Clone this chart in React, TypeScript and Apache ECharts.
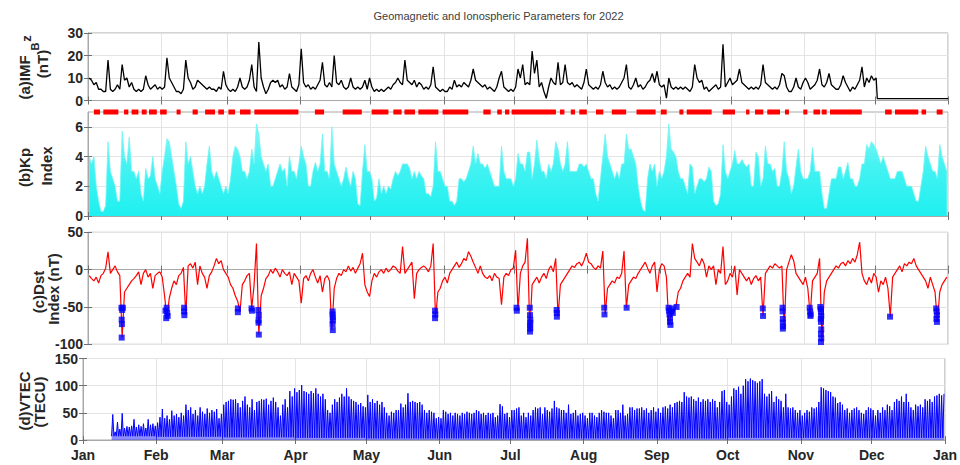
import React, { useEffect, useRef } from "react";
import * as echarts from "echarts";

// ---------- axis ticks ----------
const monthStarts = [0, 31, 59, 90, 120, 151, 181, 212, 243, 273, 304, 334, 365];
const monthLabels = ["Jan", "Feb", "Mar", "Apr", "May", "Jun", "Jul", "Aug", "Sep", "Oct", "Nov", "Dec", "Jan"];
const kpTicks = [0, 2, 4, 6];

// ---------- (a) IMF, daily values from day 0 (Jan 1) to day 334 ----------
const imfDaily = [
  10, 9, 7, 8, 5, 5, 4, 4, 18, 5,
  4, 5, 7, 5, 16, 9, 10, 6, 8, 5,
  4, 5, 4, 5, 11, 7, 5, 6, 7, 5,
  6, 5, 6, 19, 10, 8, 6, 4, 4, 3,
  5, 18, 10, 8, 5, 6, 9, 8, 7, 6,
  5, 6, 5, 5, 4, 6, 5, 13, 7, 5,
  4, 5, 4, 6, 10, 6, 5, 6, 9, 16,
  6, 4, 26, 10, 6, 3, 5, 8, 9, 8,
  9, 6, 7, 5, 6, 12, 6, 5, 4, 7,
  23, 8, 6, 7, 5, 6, 5, 7, 9, 17,
  7, 6, 8, 6, 20, 8, 7, 9, 6, 5,
  6, 10, 6, 5, 6, 5, 6, 9, 5, 10,
  6, 4, 5, 4, 5, 4, 5, 6, 5, 7,
  8, 10, 8, 7, 18, 9, 8, 7, 9, 6,
  8, 7, 5, 6, 5, 7, 15, 6, 5, 4,
  5, 4, 4, 6, 5, 9, 6, 7, 6, 8,
  7, 6, 9, 14, 9, 8, 7, 6, 7, 5,
  6, 5, 4, 6, 10, 13, 6, 5, 4, 5,
  4, 6, 14, 10, 16, 7, 8, 7, 22, 12,
  18, 6, 8, 4, 1, 6, 10, 8, 7, 17,
  7, 8, 16, 8, 7, 8, 6, 7, 6, 5,
  8, 14, 7, 6, 5, 6, 5, 7, 13, 8,
  6, 7, 5, 6, 5, 6, 8, 10, 16, 6,
  5, 7, 10, 6, 7, 5, 6, 8, 9, 12,
  8, 13, 7, 6, 7, 1, 10, 6, 5, 6,
  5, 6, 5, 6, 5, 4, 6, 16, 10, 8,
  9, 5, 6, 4, 5, 6, 7, 5, 6, 25,
  6, 8, 10, 7, 8, 9, 14, 8, 7, 6,
  5, 6, 5, 6, 5, 7, 16, 8, 7, 6,
  5, 6, 5, 7, 12, 11, 6, 4, 4, 6,
  10, 6, 5, 8, 10, 8, 5, 6, 7, 9,
  14, 7, 6, 8, 12, 7, 6, 5, 5, 7,
  11, 8, 6, 4, 6, 5, 7, 9, 15, 6,
  10, 8, 11, 9, 10,
];
const imfFlat = [[335, 0.8], [365, 0.8]];

// ---------- (b) Kp, daily maximum, day 0..364 ----------
const kpDaily = [
  4, 3.5, 4, 2, 1, 0.3, 0.3, 0.7, 5, 3,
  2.5, 2, 1, 1, 5.7, 4, 3.5, 5.3, 3, 3,
  2.5, 3, 1.5, 1, 3.2, 2.5, 2.7, 4, 2.5, 2,
  1.5, 3, 4, 5.2, 5, 4, 3, 2, 0.8, 0.5,
  1, 5, 3.5, 4, 3, 2, 1.5, 2, 1.5, 2,
  3.5, 4.7, 3, 2.5, 3, 2.5, 2, 1.5, 2, 1.5,
  2.5, 4, 4.7, 4.5, 4, 3, 3, 2.5, 3, 4.5,
  3.5, 6.2, 5.5, 4, 3.5, 3, 3.5, 2, 2, 2.5,
  3, 3.5, 3, 3.2, 2, 4, 3, 3, 2.5, 3.5,
  4.7, 4, 3.5, 2, 2, 3, 3.6, 3, 3.5, 5.5,
  3, 3, 2.5, 6, 3.5, 3, 2.5, 2, 2.5, 3.3,
  2.5, 2, 3, 2.5, 0.8, 0.7, 3, 4.8, 3, 3,
  2.5, 1, 1.2, 2.5, 1.5, 2, 1.5, 2, 1.8, 2.5,
  3, 2.7, 3, 3.5, 3.5, 3.5, 3.2, 2.5, 3, 2.5,
  3, 2.7, 2.5, 1.5, 1.5, 1.3, 2, 5, 3, 3,
  2.5, 2, 2, 1, 1, 0.7, 1, 2.5, 2.5, 2.3,
  2.5, 3, 3.5, 4.7, 3.5, 4.2, 3.5, 3.5, 3.2, 3.5,
  3, 2.5, 2, 2, 2, 4.7, 3, 2.5, 2.5, 2.5,
  2, 2.5, 4.2, 3.5, 3.5, 3, 4.3, 4.3, 2.5, 3.5,
  5.1, 3.8, 3, 3, 2.5, 3.5, 3, 3.5, 5, 4.5,
  3.5, 3, 3.5, 5, 3, 3, 3, 3, 3.5, 3.5,
  3.3, 3.5, 3, 2.5, 2.5, 1.5, 1, 2.5, 4, 5.5,
  4, 3.5, 3, 2.5, 3, 2.5, 3.5, 3.5, 5.5, 4.5,
  4.5, 4, 3.5, 2, 1, 0.4, 0.3, 2.5, 3.5, 3,
  3.5, 2, 3, 2.5, 3, 4, 6.2, 4.5, 4.3, 4,
  3, 2.5, 2.5, 2, 1.5, 3.5, 3.3, 1.5, 2, 2.5,
  2.5, 2.3, 2.5, 3.3, 3, 1, 0.7, 0.8, 1.5, 4.8,
  3, 2.5, 3, 3.5, 4.4, 3.5, 3.5, 3.8, 3.5, 3.3,
  3.5, 2, 2, 4.3, 4, 2, 2.5, 4.7, 3.5, 3.5,
  3, 3.2, 2, 2, 3, 5, 3, 2.5, 1.5, 2,
  3.3, 4.5, 3, 2.5, 2.5, 2.5, 3, 4.6, 3, 3,
  3, 1.5, 0.5, 0.5, 1.5, 2.5, 2.5, 2.5, 3.3, 3.3,
  2.5, 3, 3.6, 2.5, 2.5, 2, 2, 2.5, 3.5, 3.5,
  4.8, 4.5, 5, 4.8, 4.5, 4, 3.5, 4, 3.5, 3,
  2.5, 2.5, 2.5, 3, 3, 3, 2.5, 2, 2, 2,
  1.5, 1, 1, 2, 3, 4.7, 4, 3.5, 3, 3,
  2.5, 4.8, 4, 3.5, 3,
];

// storm-day markers drawn at Kp = 7 : [first day, last day]
const stormSegments = [
  [2.5, 5.1], [6.5, 12.9], [15.3, 17.1], [18.5, 21.4], [22.8, 24.9], [25.9, 29.2],
  [30.6, 33.4], [37.6, 39.3], [44.4, 46.6], [49.7, 53.9], [55.3, 57.7], [59.6, 62.4],
  [64.5, 69], [70.6, 89.3], [96.3, 100.2], [108.1, 116.2], [120.4, 127.5], [129.6, 133.1],
  [134.3, 138.8], [140.2, 148.7], [150.5, 161.4], [167.8, 170.9], [173.7, 175.6], [177, 178.8],
  [179.8, 198.6], [200.3, 202.2], [204.9, 206.7], [208.5, 211.7], [215.6, 218.7], [222.3, 228.4],
  [232.8, 240.9], [243.1, 245.6], [251, 252.7], [254.1, 264.7], [269.4, 274.6], [279.3, 280.7],
  [283.1, 286.6], [288.3, 293.7], [295.8, 297.5], [303.6, 305.3], [307.9, 310.7], [311.4, 313.5],
  [314.9, 328.4], [338.3, 341.1], [342.5, 352.4], [353.8, 355.7], [360.2, 362.7],
];

// ---------- (c) Dst, daily values day 0..364 ----------
const dstDaily = [
  -8, -12, -15, -10, -18, -8, -5, 2, 24, -5,
  0, 5, -3, -8, -91, -30, -25, -20, -15, -12,
  -8, -3, -20, -5, 0, -10, -5, -25, -8, -5,
  -3, -10, -35, -65, -38, -25, -15, -20, -8, -5,
  3, -61, 5, 8, 2, 10, -20, 5, -5, -10,
  -25, -8, -3, 5, 15, 8, 12, 0, -5, -10,
  -20, -25, -35, -42, -57, -20, -15, -8, -5, -52,
  -20, 35, -87, -35, -25, -12, -8, 0, -5, 2,
  -3, -10, 0, -5, -8, -3, -20, -5, -10, -15,
  -45, -12, -8, -15, -5, 0, -10, -18, -8, -30,
  -12, -8, -15, -81, -25, -12, -5, -8, 0, -3,
  5, -2, 3, -5, 2, 8, 22, -20, -30, -36,
  -15, -5, -10, -3, 0, -5, 2, -3, 0, 5,
  3, -2, -5, 31, -5, 0, 5, 10, -39, -5,
  0, 3, 5, 2, -3, 5, 35, -65, -30, -25,
  -15, -10, -18, -5, 0, 5, 10, 3, 8, 15,
  12, 24, 18, 10, 3, -5, 5, -5, -10, -12,
  -8, -15, -5, -10, -12, -47, -10, -5, -8, 0,
  2, 26, -55, -5, 5, 10, 42, -83, -20, -15,
  -10, -18, -10, -5, -12, 0, 5, -3, 15, -63,
  -20, -15, -10, -5, 0, 5, 3, 8, 10, 5,
  12, 22, 10, 8, 3, 0, 5, 2, 25, -60,
  -25, -20, -15, -18, -10, -12, -5, 25, -51, -20,
  -15, -10, -12, -5, 0, 5, 10, 2, -5, 5,
  10, -30, 0, 8, 5, -10, -74, -60, -58, -50,
  -30, -25, -15, -10, -5, -10, 35, 15, 10, 5,
  15, 8, -10, 5, 0, 5, -20, 0, -5, 31,
  -20, -15, -5, -10, 5, -34, 0, -5, -10, -15,
  -10, -20, -12, -8, -15, -10, -62, -5, 0, 5,
  2, 8, 5, 2, 5, -79, 0, 10, 20, 12,
  -5, -10, -15, -20, -10, -25, -61, -15, -10, -5,
  15, -97, -30, -15, -10, -5, 0, 5, 2, 8,
  10, 5, 12, 8, 15, 10, 20, 37, -5, -15,
  -20, -10, -18, -5, -10, -30, -15, -20, -10, -25,
  -63, -10, -5, 0, 5, -3, 8, 5, 10, 8,
  15, 5, 0, -5, -10, -15, -25, -10, -20, -30,
  -70, -30, -20, -15, -10,
];

// storm hours (Dst <= -50 nT): [day, Dst]
const dstStormPoints = [
  [14.2, -51], [14.5, -54], [14.3, -67], [14.4, -73], [14.3, -91], [14.8, -51],
  [32.9, -55], [33.4, -51], [33.6, -58], [33.8, -62], [33.2, -65],
  [40.8, -51], [40.8, -56], [40.9, -61],
  [63.6, -52], [63.6, -57],
  [69.4, -52], [69.6, -55],
  [72.3, -54], [72.5, -61], [72.4, -68], [72.4, -71], [72.5, -87],
  [103.8, -56], [103.8, -60], [103.9, -64], [103.9, -68], [103.8, -73], [103.9, -81],
  [147.3, -55], [147.4, -60], [147.3, -65],
  [181.9, -51], [182, -55],
  [187.5, -51], [187.6, -61], [187.7, -67], [187.7, -71], [187.6, -75], [187.7, -79], [187.6, -83],
  [198.9, -54], [199, -58], [199, -63],
  [219.1, -51], [219.2, -60],
  [228.6, -51],
  [246.4, -51], [246.6, -55], [246.8, -60], [247, -65], [247, -70], [247.2, -74], [247.5, -56], [247.8, -52], [248.2, -58], [249.8, -50],
  [286.4, -52], [286.5, -62],
  [294.8, -51], [294.8, -56], [294.9, -66], [294.9, -71], [295, -76], [294.9, -79],
  [306.3, -51], [306.5, -56], [306.7, -60], [306.6, -62],
  [310.8, -50], [311, -53], [311.1, -57], [311.2, -62], [311, -66], [311.1, -70], [311.2, -80], [311.1, -86], [311.2, -92], [311.1, -97],
  [340.4, -63],
  [360, -52], [360.2, -56], [360.3, -61], [360.1, -66], [360.3, -70],
];

// ---------- (d) VTEC, daily maximum from day 12 to day 364 ----------
const vtecStartDay = 12;
const vtecDailyMax = [
  47, 15, 33, 20, 49, 22, 25, 24, 26, 38,
  24, 28, 25, 30, 22, 38, 28, 30, 26, 32,
  42, 57, 40, 45, 38, 54, 45, 48, 42, 50,
  45, 65, 55, 60, 48, 55, 45, 60, 52, 48,
  58, 50, 55, 52, 57, 40, 48, 65, 70, 72,
  75, 74, 75, 68, 60, 72, 80, 65, 60, 75,
  55, 70, 72, 75, 74, 76, 65, 72, 78, 70,
  60, 45, 65, 75, 60, 90, 80, 95, 88, 92,
  101, 90, 88, 85, 90, 86, 95, 85, 80, 85,
  75, 55, 50, 65, 75, 70, 78, 85, 80, 95,
  80, 75, 72, 70, 65, 68, 62, 60, 83, 70,
  75, 68, 72, 65, 70, 60, 50, 45, 52, 50,
  55, 55, 67, 60, 65, 86, 70, 72, 70, 68,
  70, 65, 55, 50, 55, 52, 50, 40, 42, 40,
  55, 52, 48, 50, 45, 50, 48, 45, 50, 48,
  52, 50, 48, 50, 55, 53, 48, 50, 46, 50,
  48, 50, 42, 45, 66, 62, 48, 50, 42, 55,
  55, 58, 60, 45, 50, 42, 50, 45, 55, 60,
  58, 60, 48, 60, 55, 52, 58, 72, 60, 58,
  55, 55, 50, 65, 48, 50, 55, 45, 48, 50,
  45, 40, 50, 50, 45, 42, 50, 55, 52, 50,
  50, 45, 40, 55, 55, 50, 65, 45, 48, 60,
  60, 55, 58, 58, 60, 55, 58, 50, 55, 60,
  52, 58, 50, 60, 62, 58, 65, 60, 68, 70,
  72, 70, 88, 80, 78, 80, 75, 72, 78, 70,
  75, 72, 75, 70, 75, 72, 60, 70, 90, 92,
  70, 65, 80, 95, 92, 98, 85, 100, 112, 108,
  113, 110, 108, 105, 108, 112, 85, 80, 85, 90,
  70, 80, 75, 72, 60, 85, 60, 58, 60, 55,
  50, 55, 45, 50, 55, 52, 60, 58, 60, 70,
  97, 95, 92, 90, 88, 80, 78, 68, 70, 65,
  55, 58, 50, 55, 58, 60, 55, 50, 48, 55,
  60, 58, 55, 45, 55, 50, 60, 55, 65, 62,
  55, 70, 75, 72, 80, 70, 85, 70, 60, 55,
  65, 62, 65, 60, 75, 72, 75, 70, 80, 82,
  85, 82, 85,
];
// night-time floor of VTEC for each month
const vtecNightMin = [7, 6, 5, 4, 3, 3, 3, 3, 3, 4, 4, 4];

// ---------- styling ----------
const FONT = "'Liberation Sans', Arial, Helvetica, sans-serif";
const LABEL = "#262626";
const GRIDLINE = "#e4e4e4";
const BOX = "#a8a8a8";
const TICK = "#707070";

const grids = [
  { left: 88, right: 12, top: 33, height: 67.5 },
  { left: 88, right: 12, top: 112, height: 104 },
  { left: 88, right: 12, top: 232.3, height: 112 },
  { left: 83, right: 13, top: 358.5, height: 81.5 },
];
const yRanges = [
  { min: 0, max: 30, interval: 10 },
  { min: 0, max: 7 },
  { min: -100, max: 50, interval: 50 },
  { min: 0, max: 150, interval: 50 },
];

function monthOf(d: number) {
  let m = 0;
  for (let i = 0; i < 12; i++) if (d >= monthStarts[i]) m = i;
  return m;
}

function buildOption() {
  const imfData = imfDaily.map((v, i) => [i + 0.5, v]).concat(imfFlat);
  const kpData = kpDaily.map((v, i) => [i + 0.5, v]);
  const stormData: any[] = [];
  stormSegments.forEach(([a, b]) => {
    stormData.push([a, 7], [b, 7], [b, null]);
  });
  const dstData = dstDaily.map((v, i) => [i + 0.5, v]);
  const vtecData: any[] = [];
  vtecDailyMax.forEach((v, i) => {
    const d = vtecStartDay + i;
    vtecData.push([d + 0.1, vtecNightMin[monthOf(d)]], [d + 0.6, v]);
  });

  const xBottom = grids.map((_, i) => ({
    type: "value",
    gridIndex: i,
    min: 0,
    max: 365,
    position: "bottom",
    axisLine: { show: true, lineStyle: { color: BOX, width: 1 } },
    axisTick: { show: true, inside: true, length: 4, customValues: monthStarts, lineStyle: { color: TICK } },
    axisLabel:
      i === 3
        ? {
            show: true,
            customValues: monthStarts,
            formatter: (v: number) => monthLabels[monthStarts.indexOf(v)] ?? "",
            color: LABEL,
            fontWeight: "bold",
            fontSize: 14,
            fontFamily: FONT,
            margin: 8,
          }
        : { show: false },
    splitLine: { show: true, lineStyle: { color: GRIDLINE, width: 1 } },
  }));
  const xTop = grids.map((_, i) => ({
    type: "value",
    gridIndex: i,
    min: 0,
    max: 365,
    position: "top",
    axisLine: { show: false },
    axisTick: { show: true, inside: true, length: 4, customValues: monthStarts, lineStyle: { color: TICK } },
    axisLabel: { show: false },
    splitLine: { show: false },
  }));
  const yLeft = grids.map((_, i) => {
    const r: any = yRanges[i];
    const base: any = {
      type: "value",
      gridIndex: i,
      min: r.min,
      max: r.max,
      position: "left",
      axisLine: { show: true, lineStyle: { color: BOX, width: 1 } },
      axisTick: { show: true, inside: true, length: 4, lineStyle: { color: TICK } },
      axisLabel: { show: true, color: LABEL, fontWeight: "bold", fontSize: 14, fontFamily: FONT, margin: 5 },
      splitLine: { show: true, lineStyle: { color: GRIDLINE, width: 1 } },
    };
    if (r.interval) base.interval = r.interval;
    else {
      base.axisTick.customValues = kpTicks;
      base.axisLabel.customValues = kpTicks;
    }
    return base;
  });
  const yRight = grids.map((_, i) => {
    const r: any = yRanges[i];
    const base: any = {
      type: "value",
      gridIndex: i,
      min: r.min,
      max: r.max,
      position: "right",
      axisLine: { show: false },
      axisTick: { show: true, inside: true, length: 4, lineStyle: { color: TICK } },
      axisLabel: { show: false },
      splitLine: { show: false },
    };
    if (r.interval) base.interval = r.interval;
    else base.axisTick.customValues = kpTicks;
    return base;
  });

  const yTitle = (text: string, x: number, y: number, size = 15) => ({
    type: "text",
    x,
    y,
    rotation: Math.PI / 2,
    z: 10,
    style: {
      text,
      fontSize: size,
      fontWeight: "bold",
      fontFamily: FONT,
      fill: LABEL,
      align: "center",
      verticalAlign: "middle",
    },
  });

  return {
    animation: false,
    backgroundColor: "#ffffff",
    textStyle: { fontFamily: FONT },
    grid: grids.map((g) => ({ ...g, show: true, borderColor: BOX, borderWidth: 1, backgroundColor: "#ffffff", containLabel: false })),
    xAxis: [...xBottom, ...xTop],
    yAxis: [...yLeft, ...yRight],
    graphic: [
      {
        type: "text",
        x: 498.5,
        y: 16,
        style: {
          text: "Geomagnetic and Ionospheric Parameters for 2022",
          fontSize: 11,
          fontFamily: FONT,
          fill: "#3c3c3c",
          align: "center",
          verticalAlign: "middle",
        },
      },
      yTitle("(a)IMF", 24, 77.5),
      yTitle("B", 35, 46.5, 11),
      yTitle("z", 26.5, 38.5, 13),
      yTitle("(nT)", 42.5, 64),
      yTitle("(b)Kp", 24, 167.5),
      yTitle("Index", 46, 166),
      yTitle("(c)Dst", 38, 292),
      yTitle("Index (nT)", 53, 289),
      yTitle("(d)VTEC", 24, 401),
      yTitle("(TECU)", 39, 402),
    ],
    series: [
      {
        type: "line",
        name: "IMF",
        xAxisIndex: 0,
        yAxisIndex: 0,
        data: imfData,
        showSymbol: false,
        symbol: "none",
        lineStyle: { color: "#000000", width: 1.3 },
      },
      {
        type: "line",
        name: "Kp",
        xAxisIndex: 1,
        yAxisIndex: 1,
        data: kpData,
        symbol: "none",
        lineStyle: { color: "#6ff5f5", width: 0.8 },
        areaStyle: {
          color: new echarts.graphic.LinearGradient(0, 0, 0, 1, [
            { offset: 0, color: "#8ef6f6" },
            { offset: 0.45, color: "#45f2f2" },
            { offset: 1, color: "#1ff0f0" },
          ]),
          opacity: 1,
        },
      },
      {
        type: "line",
        name: "storm days",
        xAxisIndex: 1,
        yAxisIndex: 1,
        data: stormData,
        symbol: "none",
        connectNulls: false,
        clip: false,
        z: 5,
        lineStyle: { color: "#ff0000", width: 5, cap: "butt" },
      },
      {
        type: "line",
        name: "Dst",
        xAxisIndex: 2,
        yAxisIndex: 2,
        data: dstData,
        symbol: "none",
        lineStyle: { color: "#ff0000", width: 1.2 },
      },
      {
        type: "scatter",
        name: "Dst storm",
        xAxisIndex: 2,
        yAxisIndex: 2,
        data: dstStormPoints,
        symbol: "rect",
        symbolSize: 6,
        z: 5,
        itemStyle: { color: "#0000ff" },
      },
      {
        type: "line",
        name: "VTEC",
        xAxisIndex: 3,
        yAxisIndex: 3,
        data: vtecData,
        symbol: "none",
        lineStyle: { color: "#0000ff", width: 1 },
        areaStyle: { color: "#0000ff", opacity: 0.45 },
      },
    ],
  };
}

export default function App() {
  const ref = useRef<HTMLDivElement | null>(null);
  useEffect(() => {
    if (!ref.current) return;
    const chart = echarts.init(ref.current, undefined, { renderer: "svg" });
    chart.setOption(buildOption() as any);
    return () => chart.dispose();
  }, []);
  return (
    <div
      ref={ref}
      style={{ position: "fixed", left: 0, top: 0, width: 960, height: 465, background: "#ffffff" }}
    />
  );
}
